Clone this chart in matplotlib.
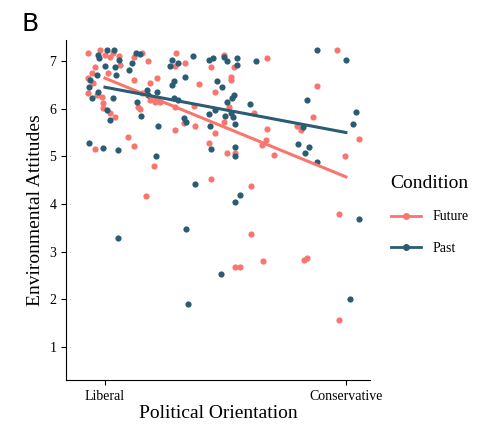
import numpy as np
import matplotlib
matplotlib.use('Agg')
import matplotlib.pyplot as plt
from matplotlib.lines import Line2D

plt.rcParams['font.family'] = 'Liberation Serif'

# Future condition (orientation, attitude)
future_x = [0.58, 0.88, 1.0, 1.13, 1.21, 1.36, 0.75, 0.67, 0.58, 0.71, 0.58, 0.79, 0.92, 0.96, 0.96,
            1.13, 1.25, 1.08, 1.38, 1.73, 1.92, 2.08, 1.73, 2.29, 2.13, 1.92, 2.13, 2.25, 2.38, 1.83,
            1.88, 1.58, 1.73, 0.75, 2.21, 2.03, 2.77, 2.75, 3.0, 2.75, 2.75, 2.96, 3.21, 3.25, 3.35,
            3.73, 3.64, 3.96, 4.21, 4.15, 4.15, 5.04, 3.59, 3.73, 3.96, 4.08, 4.03, 4.25, 3.65, 4.63,
            4.71, 5.03, 5.0, 4.92, 5.2, 4.64, 4.93, 4.25, 4.36, 5.96, 6.02, 5.78, 5.89, 6.19, 6.29,
            6.79, 6.98, 7.32, 6.83, 6.83]
future_y = [7.17, 7.22, 7.13, 7.09, 7.16, 7.10, 6.88, 6.74, 6.64, 6.53, 6.32, 6.29, 6.25, 6.11, 6.01,
            5.90, 5.83, 6.74, 6.92, 7.09, 7.17, 7.0, 6.60, 6.65, 6.53, 6.32, 6.18, 6.15, 6.15, 6.03,
            5.99, 5.41, 5.22, 5.15, 4.80, 4.17, 7.17, 6.9, 6.96, 6.04, 5.55, 5.69, 6.06, 5.64, 6.52,
            6.36, 6.88, 7.13, 6.88, 6.67, 6.6, 7.06, 5.29, 5.50, 5.73, 6.04, 5.08, 5.08, 4.52, 4.38,
            5.90, 5.57, 5.34, 5.24, 5.03, 3.38, 2.81, 2.67, 2.67, 2.82, 2.86, 5.64, 5.55, 5.83, 6.48,
            7.22, 5.01, 5.36, 3.79, 1.57]

# Past condition
past_x = [0.83, 1.04, 1.23, 0.86, 1.0, 1.25, 1.36, 0.81, 0.63, 0.61, 0.67, 0.83, 1.04, 1.13, 1.19,
          1.27, 1.6, 1.67, 1.78, 1.88, 0.61, 0.96, 1.33, 1.33, 1.79, 1.9, 2.04, 2.08, 2.29, 2.33,
          2.27, 2.63, 2.67, 2.83, 3.0, 2.67, 2.71, 2.71, 2.83, 2.96, 3.03, 3.19, 3.25, 3.03, 3.08,
          3.59, 3.69, 3.96, 4.04, 4.28, 4.29, 3.8, 3.92, 4.03, 4.17, 4.21, 3.75, 3.58, 4.0, 4.13,
          4.2, 4.25, 3.61, 3.63, 4.25, 4.23, 4.36, 4.25, 3.89, 4.61, 4.75, 5.81, 6.08, 5.98, 6.29,
          6.04, 5.92, 6.29, 6.99, 7.25, 7.17, 7.33, 7.1]
past_y = [7.13, 7.22, 7.22, 7.06, 6.9, 6.88, 7.03, 6.71, 6.6, 6.45, 6.22, 6.36, 5.97, 5.76, 6.22,
          6.71, 6.81, 6.95, 7.17, 7.15, 5.29, 5.17, 5.13, 3.28, 6.15, 5.85, 6.39, 6.29, 6.36, 5.64,
          5.01, 6.9, 7.02, 6.95, 6.67, 6.5, 6.57, 6.22, 6.18, 5.8, 5.71, 7.1, 4.41, 3.48, 1.9,
          7.02, 7.06, 7.09, 6.99, 7.07, 6.92, 6.57, 6.46, 6.15, 6.22, 6.29, 5.97, 5.89, 5.85, 5.9,
          5.82, 5.68, 5.64, 5.15, 5.19, 5.01, 4.19, 4.05, 2.53, 6.1, 7.0, 5.26, 5.2, 5.08, 4.89,
          6.18, 5.62, 7.22, 7.02, 5.92, 5.67, 3.68, 2.0]

# fitted lines (value at Liberal=1, Conservative=7)
fit_future = [6.64, 4.57]
fit_past = [6.45, 5.50]

orange = '#F8766D'
navy = '#2A5C74'

fig = plt.figure(figsize=(5.04, 4.34), dpi=100)
ax = fig.add_axes([66 / 504, 1 - 380 / 434, 304 / 504, 340 / 434])

ax.scatter(future_x, future_y, s=20, color=orange, lw=0, zorder=2)
ax.scatter(past_x, past_y, s=20, color=navy, lw=0, zorder=2)

ax.plot([1, 7], fit_future, color=orange, lw=2.2, zorder=3)
ax.plot([1, 7], fit_past, color=navy, lw=2.2, zorder=3)

ax.set_xlim(0.03, 7.6)
ax.set_ylim(0.31, 7.44)
ax.set_yticks([1, 2, 3, 4, 5, 6, 7])
ax.set_xticks([1, 7])
ax.set_xticklabels(['Liberal', 'Conservative'])
ax.tick_params(labelsize=10, colors='black')
for s in ['top', 'right']:
    ax.spines[s].set_visible(False)
ax.set_xlabel('Political Orientation', fontsize=14, labelpad=2)
ax.set_ylabel('Environmental Attitudes', fontsize=14)

handles = [Line2D([], [], color=orange, lw=2, marker='o', ms=4),
           Line2D([], [], color=navy, lw=2, marker='o', ms=4)]
leg = fig.legend(handles, ['Future', 'Past'], title='Condition', loc='center left',
                 bbox_to_anchor=(378 / 504, 1 - 215 / 434), frameon=False, fontsize=10,
                 title_fontsize=14, handlelength=2.2, labelspacing=1.3)
leg._legend_box.align = 'left'

fig.text(22 / 504, 1 - 24 / 434, 'B', fontsize=18, family='DejaVu Sans', va='center')

fig.savefig('out.png', dpi=100)
